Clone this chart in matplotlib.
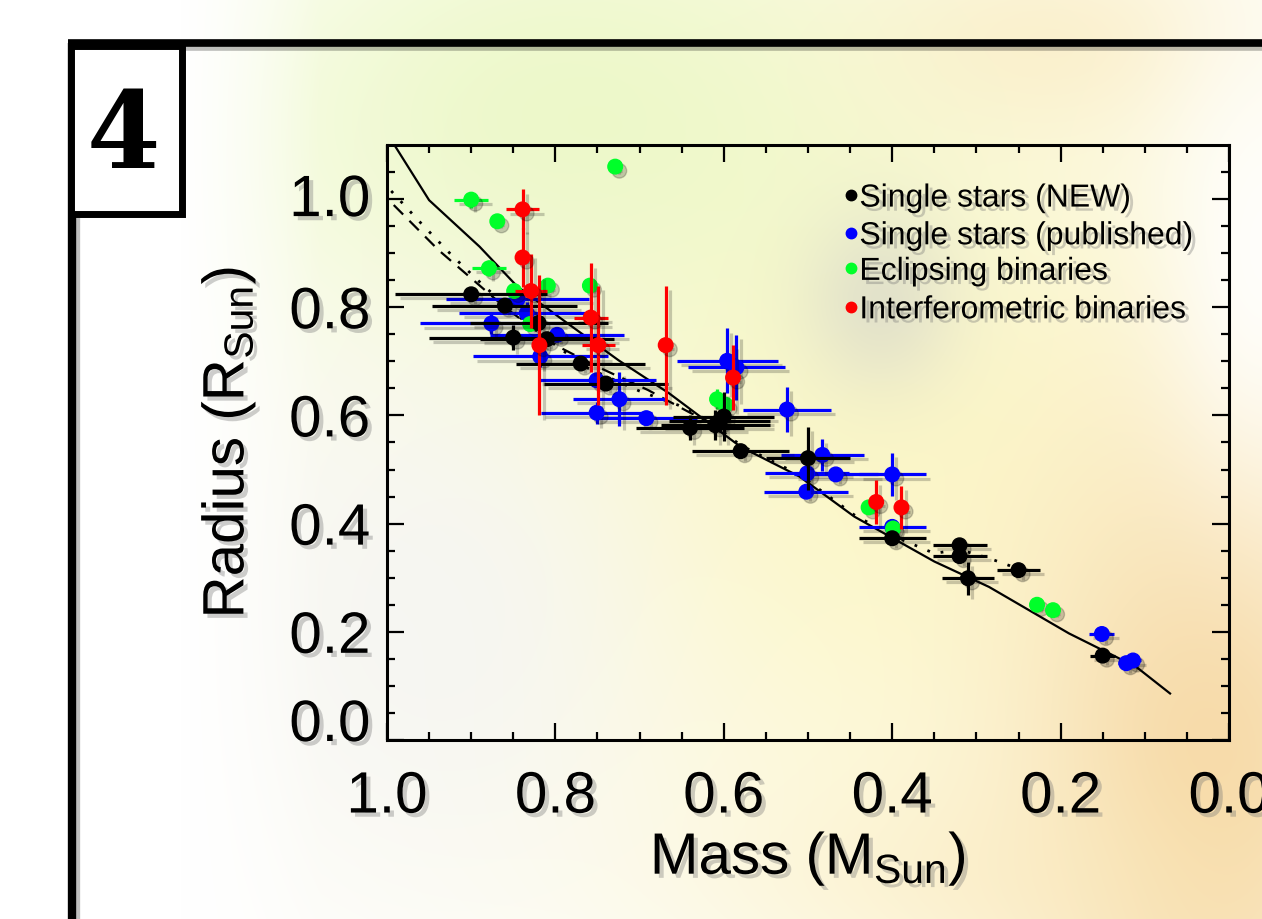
import numpy as np
import matplotlib
matplotlib.use('Agg')
import matplotlib.pyplot as plt
import matplotlib.patheffects as pe
from matplotlib.patches import Rectangle
from matplotlib.transforms import ScaledTranslation

plt.rcParams['font.family'] = ['Liberation Sans', 'DejaVu Sans']
plt.rcParams['mathtext.fontset'] = 'custom'
plt.rcParams['mathtext.rm'] = 'Liberation Sans'
plt.rcParams['mathtext.it'] = 'Liberation Sans:italic'

# ---- data (mass in M_sun, radius in R_sun) ----
# single stars (NEW)
black_m = [0.90, 0.86, 0.82, 0.85, 0.81, 0.77, 0.74, 0.64, 0.61, 0.605, 0.60,
           0.58, 0.50, 0.40, 0.32, 0.32, 0.31, 0.25, 0.15]
black_r = [0.824, 0.803, 0.771, 0.744, 0.741, 0.696, 0.659, 0.577, 0.582, 0.59,
           0.598, 0.534, 0.521, 0.373, 0.360, 0.340, 0.299, 0.314, 0.156]
black_xerr = [0.09, 0.086, 0.082, 0.10, 0.08, 0.077, 0.074, 0.064, 0.065, 0.06,
              0.06, 0.058, 0.05, 0.04, 0.032, 0.032, 0.031, 0.025, 0.015]
black_yerr = [0.01, 0.01, 0.01, 0.023, 0.01, 0.01, 0.01, 0.023, 0.028, 0.02,
              0.045, 0.01, 0.058, 0.01, 0.01, 0.01, 0.031, 0.01, 0.01]

# single stars (published)
blue_m = [0.876, 0.845, 0.834, 0.818, 0.798, 0.751, 0.724, 0.751, 0.692, 0.596,
          0.585, 0.525, 0.483, 0.501, 0.467, 0.400, 0.502, 0.400, 0.151, 0.122, 0.114]
blue_r = [0.770, 0.815, 0.789, 0.709, 0.749, 0.665, 0.630, 0.605, 0.595, 0.701,
          0.689, 0.611, 0.527, 0.493, 0.491, 0.491, 0.459, 0.394, 0.196, 0.142, 0.147]
blue_xerr = [0.085, 0.085, 0.08, 0.08, 0.08, 0.07, 0.055, 0.066, 0.06, 0.06,
             0.058, 0.052, 0.049, 0.05, 0.05, 0.04, 0.05, 0.04, 0.015, 0.01, 0.01]
blue_yerr = [0.02, 0.01, 0.02, 0.02, 0.01, 0.01, 0.05, 0.02, 0.01, 0.06,
             0.06, 0.042, 0.03, 0.01, 0.01, 0.04, 0.01, 0.01, 0.01, 0.01, 0.01]

# eclipsing binaries
green_m = [0.90, 0.869, 0.879, 0.849, 0.809, 0.759, 0.729, 0.83, 0.608, 0.598,
           0.428, 0.399, 0.228, 0.209]
green_r = [0.999, 0.959, 0.872, 0.830, 0.840, 0.840, 1.060, 0.769, 0.630, 0.62,
           0.43, 0.391, 0.250, 0.240]
green_xerr = [0.02, 0.003, 0.02, 0.003, 0.003, 0.003, 0.003, 0.003, 0.003, 0.003,
              0.003, 0.003, 0.003, 0.003]
green_yerr = [0.015, 0.005, 0.015, 0.005, 0.005, 0.005, 0.005, 0.005, 0.018, 0.005,
              0.005, 0.005, 0.005, 0.005]

# interferometric binaries
red_m = [0.839, 0.839, 0.829, 0.819, 0.758, 0.749, 0.669, 0.589, 0.419, 0.389]
red_r = [0.981, 0.892, 0.830, 0.730, 0.781, 0.730, 0.730, 0.670, 0.44, 0.43]
red_xerr = [0.02, 0.005, 0.019, 0.005, 0.02, 0.02, 0.005, 0.005, 0.005, 0.005]
red_yerr = [0.037, 0.054, 0.068, 0.13, 0.10, 0.11, 0.11, 0.06, 0.04, 0.04]

# model curves
solid_m = [0.99, 0.95, 0.89, 0.845, 0.78, 0.725, 0.665, 0.58, 0.51, 0.445,
           0.35, 0.285, 0.19, 0.11, 0.07]
solid_r = [1.097, 0.998, 0.912, 0.838, 0.764, 0.702, 0.641, 0.542, 0.487, 0.413,
           0.330, 0.283, 0.197, 0.135, 0.086]
dotted_m = [0.995, 0.963, 0.923, 0.884, 0.83, 0.765, 0.70, 0.654, 0.62, 0.58,
            0.51, 0.445, 0.40, 0.35, 0.32, 0.285, 0.26, 0.25]
dotted_r = [1.015, 0.961, 0.896, 0.838, 0.765, 0.690, 0.645, 0.619, 0.592, 0.545,
            0.490, 0.416, 0.378, 0.345, 0.352, 0.336, 0.322, 0.316]
dashed_m = [0.992, 0.939, 0.907, 0.86, 0.80, 0.75, 0.69, 0.64, 0.62]
dashed_r = [0.989, 0.906, 0.863, 0.80, 0.73, 0.69, 0.647, 0.605, 0.59]

legend_labels = ['Single stars (NEW)', 'Single stars (published)',
                 'Eclipsing binaries', 'Interferometric binaries']
legend_colors = ['black', '#0000ff', '#00ff2a', '#ff0000']

W, H = 1262, 919
fig = plt.figure(figsize=(W / 100, H / 100), dpi=100)

# blurred slide background
bg = fig.add_axes([0, 0, 1, 1])
bg.set_xlim(0, W)
bg.set_ylim(H, 0)
bg.axis('off')
yy, xx = np.mgrid[0:H, 0:W]
img = np.ones((H, W, 3))


def blob(img, cx, cy, sx, sy, color, s):
    w = s * np.exp(-(((xx - cx) / sx) ** 2 + ((yy - cy) / sy) ** 2) / 2)
    return img * (1 - w[..., None]) + np.array(color) / 255 * w[..., None]


img = blob(img, 850, 430, 320, 340, (252, 247, 198), 0.95)
img = blob(img, 560, 120, 250, 170, (234, 248, 196), 0.85)
img = blob(img, 1060, 40, 140, 70, (250, 234, 192), 0.6)
img = blob(img, 1210, 780, 140, 260, (246, 214, 160), 0.9)
img = blob(img, 1000, 880, 200, 80, (250, 234, 188), 0.5)
img = blob(img, 880, 300, 55, 65, (205, 205, 202), 0.5)
img = blob(img, 430, 620, 160, 190, (245, 245, 243), 0.85)
img = blob(img, 1262, 260, 70, 160, (255, 255, 255), 0.85)
left = np.clip((xx - 180) / 140, 0, 1)
img = img * left[..., None] + (1 - left[..., None])
bg.imshow(img, extent=(0, W, H, 0), aspect='auto', zorder=0)

shadow_line = [pe.SimpleLineShadow(offset=(3, -3), shadow_color='k', alpha=0.25), pe.Normal()]
bg.plot([72, 72], [43, H], color='black', lw=6, solid_capstyle='butt', path_effects=shadow_line)
bg.plot([68, W], [43, 43], color='black', lw=5.5, solid_capstyle='butt', path_effects=shadow_line)
bg.add_patch(Rectangle((71, 46), 111, 168, facecolor='white', edgecolor='black', lw=5,
                       zorder=3))
bg.text(123, 138, '4', fontsize=76, family='DejaVu Serif', weight='bold',
        ha='center', va='center', zorder=4)

# main plot
ax = fig.add_axes([387 / W, (H - 740) / H, 842 / W, 595 / H])
ax.set_facecolor('none')
ax.set_xlim(1.0, 0.0)
ax.set_ylim(0.0, 1.1)

txt_shadow = [pe.withSimplePatchShadow(offset=(3, -3), shadow_rgbFace=(0.45, 0.45, 0.45),
                                       alpha=0.35)]
pt_shadow = [pe.SimplePatchShadow(offset=(3, -3), shadow_rgbFace='k', alpha=0.2),
             pe.SimpleLineShadow(offset=(3, -3), shadow_color='k', alpha=0.2), pe.Normal()]

ax.plot(solid_m, solid_r, color='black', lw=1.6, zorder=2)
ax.plot(dotted_m, dotted_r, color='black', lw=2, ls=(0, (1, 4)), zorder=2)
ax.plot(dashed_m, dashed_r, color='black', lw=1.6, ls=(0, (6, 4)), zorder=2)

sets = [(blue_m, blue_r, blue_xerr, blue_yerr, legend_colors[1], 3),
        (green_m, green_r, green_xerr, green_yerr, legend_colors[2], 4),
        (black_m, black_r, black_xerr, black_yerr, legend_colors[0], 5),
        (red_m, red_r, red_xerr, red_yerr, legend_colors[3], 6)]
for m, r, xe, ye, c, z in sets:
    line, caps, bars = ax.errorbar(m, r, xerr=xe, yerr=ye, fmt='o', color=c, ecolor=c,
                                   ms=10.5, mec=c, elinewidth=2.3, capsize=0, zorder=z)
    line.set_path_effects(pt_shadow)
    for b in bars:
        b.set_path_effects(pt_shadow)

# legend
dot_y = [0.916, 0.8526, 0.7928, 0.7282]
for i, (lab, c) in enumerate(zip(legend_labels, legend_colors)):
    ax.plot(0.551, dot_y[i], 'o', ms=7.5, color=c, transform=ax.transAxes, zorder=7,
            clip_on=False)
    ax.text(0.561, dot_y[i] - 0.0195, lab, fontsize=23, va='baseline', ha='left',
            transform=ax.transAxes, zorder=7, path_effects=txt_shadow)

ax.set_xticks([1.0, 0.8, 0.6, 0.4, 0.2, 0.0])
ax.set_xticklabels(['1.0', '0.8', '0.6', '0.4', '0.2', '0.0'])
ax.set_xticks(np.arange(0.05, 1.0, 0.05), minor=True)
ax.set_yticks([0.0, 0.2, 0.4, 0.6, 0.8, 1.0])
ax.set_yticklabels(['0.0', '0.2', '0.4', '0.6', '0.8', '1.0'])
ax.set_yticks(np.arange(0.05, 1.1, 0.05), minor=True)
ax.tick_params(which='both', direction='in', top=True, right=True, width=1.6,
               color='black')
ax.tick_params(which='major', length=12, labelsize=42)
ax.tick_params(which='minor', length=6)
ax.tick_params(axis='y', pad=12)
ax.tick_params(axis='x', pad=22)
for s in ax.spines.values():
    s.set_linewidth(2.2)

for t in ax.get_xticklabels() + ax.get_yticklabels():
    t.set_path_effects(txt_shadow)
ylabs = ax.get_yticklabels()
ylabs[0].set_transform(ylabs[0].get_transform() + ScaledTranslation(0, 0.2, fig.dpi_scale_trans))
ylabs[-1].set_transform(ylabs[-1].get_transform() + ScaledTranslation(0, 0.04, fig.dpi_scale_trans))

ax.set_xlabel('Mass (M$_{\\mathrm{Sun}}$)', fontsize=42, path_effects=txt_shadow)
ax.set_ylabel('Radius (R$_{\\mathrm{Sun}}$)', fontsize=42, path_effects=txt_shadow)
ax.xaxis.label.set_va('center')
ax.yaxis.label.set_va('center')
ax.xaxis.set_label_coords(0.5, -0.2)
ax.yaxis.set_label_coords(-0.188, 0.5)

fig.savefig('out.png', dpi=100)
